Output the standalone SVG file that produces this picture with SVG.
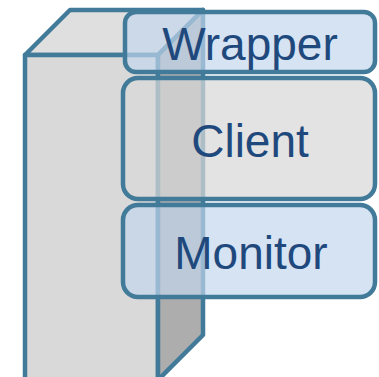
<svg xmlns="http://www.w3.org/2000/svg" width="379" height="377" viewBox="0 0 379 377">
<style>
.edge{stroke:#427b9a;stroke-width:4.5;stroke-linejoin:round}
.blue{fill:#c3d6ed;fill-opacity:0.68;stroke:#427b9a;stroke-width:4.5}
.gray{fill:#d8d8d8;fill-opacity:0.72;stroke:#427b9a;stroke-width:4.5}
.lbl{font-family:"Liberation Sans",Arial,sans-serif;font-size:46px;fill:#1f497d;text-anchor:middle}
</style>
<rect width="379" height="377" fill="#ffffff"/>
<g id="cuboid">
<polygon class="edge" fill="#dfdfdf" points="25,55 70,10 203,10 158,55"/>
<polygon class="edge" fill="#d9d9d9" points="25,55 158,55 158,382 25,382"/>
<polygon class="edge" fill="#adadad" points="158,55 203,10 203,335 158,380"/>
</g>
<g id="wrapper">
<rect class="blue" x="125" y="12" width="250" height="60" rx="11"/>
<text class="lbl" x="250" y="60">Wrapper</text>
</g>
<g id="client">
<rect class="gray" x="123" y="78" width="252" height="121" rx="15"/>
<text class="lbl" x="250" y="157">Client</text>
</g>
<g id="monitor">
<rect class="blue" x="123" y="205" width="252" height="92" rx="15"/>
<text class="lbl" x="251" y="269">Monitor</text>
</g>
<g id="connectors"/>
</svg>
